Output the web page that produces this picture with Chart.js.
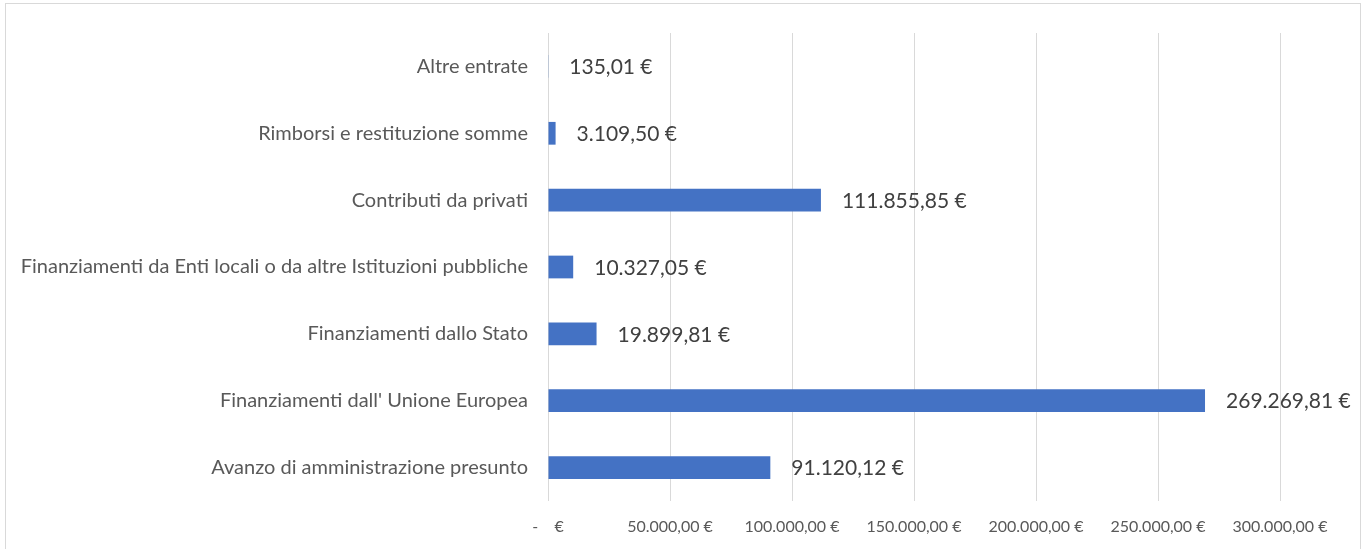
<!DOCTYPE html>
<html>
<head>
<meta charset="utf-8">
<script src="https://cdn.jsdelivr.net/npm/chart.js@4"></script>
<style>
  html, body { margin: 0; padding: 0; background: #fff; overflow: hidden; }
  #frame {
    position: absolute; left: 5px; top: 3px; width: 1356px; height: 560px;
    border: 1px solid #d9d9d9; box-sizing: border-box;
  }
  #wrap { position: absolute; left: 0; top: 0; width: 1368px; height: 549px; }
</style>
</head>
<body>
<div id="frame"></div>
<div id="wrap"><canvas id="revenueChart" width="1368" height="549"></canvas></div>
<script>
// categories, top to bottom
const categories = [
  'Altre entrate',
  'Rimborsi e restituzione somme',
  'Contributi da privati',
  'Finanziamenti da Enti locali o da altre Istituzioni pubbliche',
  'Finanziamenti dallo Stato',
  "Finanziamenti dall' Unione Europea",
  'Avanzo di amministrazione presunto'
];
const amounts = [135.01, 3109.50, 111855.85, 10327.05, 19899.81, 269269.81, 91120.12];
const tickValues = [0, 50000, 100000, 150000, 200000, 250000, 300000];

const FONT = 'Lato';

// italian accounting style: 111.855,85 €
const euro = (v) => {
  if (v === 0) return '-    €';
  const [int, dec] = v.toFixed(2).split('.');
  return int.replace(/\B(?=(\d{3})+(?!\d))/g, '.') + ',' + dec + ' €';
};

// value labels after each bar
const valueLabels = {
  id: 'valueLabels',
  afterDatasetsDraw(chart) {
    const { ctx } = chart;
    const meta = chart.getDatasetMeta(0);
    ctx.save();
    ctx.font = '21px ' + FONT;
    ctx.fillStyle = '#404040';
    ctx.textBaseline = 'middle';
    ctx.textAlign = 'left';
    meta.data.forEach((bar, i) => {
      ctx.fillText(euro(amounts[i]), bar.x + 21, bar.y + 1);
    });
    ctx.restore();
  }
};

const ctx = document.getElementById('revenueChart').getContext('2d');
new Chart(ctx, {
  type: 'bar',
  data: {
    labels: categories,
    datasets: [{
      data: amounts,
      backgroundColor: '#4472C4',
      categoryPercentage: 1,
      barPercentage: 0.34
    }]
  },
  options: {
    indexAxis: 'y',
    responsive: false,
    animation: false,
    layout: { padding: { top: 33, right: 88, bottom: 0, left: 0 } },
    plugins: { legend: { display: false }, tooltip: { enabled: false } },
    scales: {
      x: {
        min: 0,
        max: 300000,
        afterBuildTicks: (scale) => { scale.ticks = tickValues.map(v => ({ value: v })); },
        afterFit: (scale) => { scale.height = 48; },
        grid: { color: '#d9d9d9', lineWidth: 1, drawTicks: false },
        border: { display: false },
        ticks: {
          padding: 16,
          color: '#595959',
          font: { family: FONT, size: 16 },
          callback: (v) => euro(v)
        }
      },
      y: {
        afterFit: (scale) => { scale.width = 548; },
        grid: { display: false, drawTicks: false },
        border: { display: false },
        ticks: {
          padding: 20,
          color: '#595959',
          font: { family: FONT, size: 20 }
        }
      }
    }
  },
  plugins: [valueLabels]
});
</script>
</body>
</html>
